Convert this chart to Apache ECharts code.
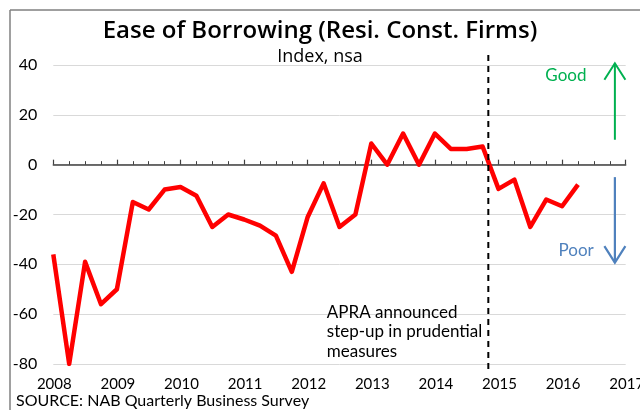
<!DOCTYPE html>
<html>
<head>
<meta charset="utf-8">
<script src="https://cdn.jsdelivr.net/npm/echarts@6/dist/echarts.min.js"></script>
<style>
  html, body { margin: 0; padding: 0; background: #fff; }
  #chart { width: 640px; height: 410px; }
</style>
</head>
<body>
<div id="chart"></div>
<script>
// Quarterly survey readings, Q1 2008 to Q2 2016
const quarters = [
  '2008Q1','2008Q2','2008Q3','2008Q4',
  '2009Q1','2009Q2','2009Q3','2009Q4',
  '2010Q1','2010Q2','2010Q3','2010Q4',
  '2011Q1','2011Q2','2011Q3','2011Q4',
  '2012Q1','2012Q2','2012Q3','2012Q4',
  '2013Q1','2013Q2','2013Q3','2013Q4',
  '2014Q1','2014Q2','2014Q3','2014Q4',
  '2015Q1','2015Q2','2015Q3','2015Q4',
  '2016Q1','2016Q2'
];
const easeOfBorrowing = [
  -36, -80, -39, -56,
  -50, -15, -18, -10,
  -9, -12.5, -25, -20,
  -22, -24.5, -28.5, -43,
  -21, -7.5, -25, -20,
  8.5, 0, 12.5, 0,
  12.5, 6.3, 6.3, 7.3,
  -9.7, -6, -25, -14,
  -16.7, -8
];
const yTicks = [-80, -60, -40, -20, 0, 20, 40];
const yearLabels = [2008, 2009, 2010, 2011, 2012, 2013, 2014, 2015, 2016, 2017];

// APRA announcement date (decimal year)
const apraDate = 2014.84;

const SANS = 'Lato';
const TITLE_FONT = 'Open Sans';

function quarterToYear(q) {
  const y = parseInt(q.slice(0, 4), 10);
  const n = parseInt(q.slice(5), 10);
  return y + (n - 1) / 4;
}

const seriesData = quarters.map((q, i) => [quarterToYear(q), easeOfBorrowing[i]]);

const chart = echarts.init(document.getElementById('chart'), null, { renderer: 'canvas' });

chart.setOption({
  animation: false,
  backgroundColor: '#ffffff',
  title: [
    {
      text: 'Ease of Borrowing (Resi. Const. Firms)',
      left: 'center', top: 14,
      textStyle: { fontFamily: TITLE_FONT, fontSize: 24, fontWeight: 600, color: '#000' }
    },
    {
      text: 'Index, nsa',
      left: 'center', top: 43,
      textStyle: { fontFamily: TITLE_FONT, fontSize: 18, fontWeight: 'normal', color: '#000' }
    }
  ],
  grid: {
    left: 53.3, right: 14.3, top: 65, bottom: 46,
    containLabel: false, outerBoundsMode: 'none'
  },
  xAxis: [
    {
      // year labels along the bottom; also carries the data
      type: 'value', min: yearLabels[0], max: yearLabels[yearLabels.length - 1], interval: 1,
      position: 'bottom',
      axisLine: { show: false }, axisTick: { show: false }, splitLine: { show: false },
      axisLabel: {
        fontFamily: SANS, fontSize: 15, color: '#000', margin: 13, padding: [0, 0, 0, 2],
        hideOverlap: false,
        formatter: v => String(v)
      }
    },
    {
      // zero line with quarterly ticks
      type: 'value', min: yearLabels[0], max: yearLabels[yearLabels.length - 1], interval: 1,
      position: 'bottom',
      axisLine: { show: true, onZero: true, onZeroAxisIndex: 0, lineStyle: { color: '#404040', width: 1.5 } },
      axisTick: { show: true, inside: true, length: 5, lineStyle: { color: '#404040', width: 1.2 } },
      minorTick: { show: true, splitNumber: 4, length: 3.5, lineStyle: { color: '#404040', width: 1 } },
      axisLabel: { show: false }, splitLine: { show: false }
    }
  ],
  yAxis: {
    type: 'value', min: yTicks[0], max: yTicks[yTicks.length - 1], interval: 20,
    axisLine: { show: false }, axisTick: { show: false },
    axisLabel: { fontFamily: SANS, fontSize: 16, color: '#000', margin: 16 },
    splitLine: { show: true, lineStyle: { color: '#d9d9d9', width: 1 } }
  },
  series: [
    {
      type: 'line', xAxisIndex: 0, data: seriesData,
      showSymbol: false, symbol: 'none',
      lineStyle: { color: '#ff0000', width: 4.5, join: 'round' },
      z: 5
    }
  ]
});

// Annotations placed through the chart's own scales
const px = (x, y) => chart.convertToPixel({ xAxisIndex: 0, yAxisIndex: 0 }, [x, y]);

const arrowX = 2016.83;
const goodFrom = px(arrowX, 10), goodTip = px(arrowX, 40.7);
const poorFrom = px(arrowX, -5), poorTip = px(arrowX, -39.3);
const dashTop = px(apraDate, 44), dashBottom = px(apraDate, -82);
const goodPos = px(2016.06, 35.6);
const poorPos = px(2016.22, -34.3);
const notePos = px(2012.3, -55.3);

const wingX = 10.5, wingY = 16.5;

chart.setOption({
  graphic: [
    { type: 'line', shape: { x1: 10, y1: 10, x2: 640, y2: 10 }, style: { stroke: '#404040', lineWidth: 1 } },
    { type: 'line', shape: { x1: 10, y1: 10, x2: 10, y2: 410 }, style: { stroke: '#808080', lineWidth: 1.5 } },
    {
      type: 'line', z: 10,
      shape: { x1: dashTop[0], y1: dashTop[1], x2: dashBottom[0], y2: dashBottom[1] },
      style: { stroke: '#000', lineWidth: 2, lineDash: [6, 5] }
    },
    {
      type: 'polyline', z: 10,
      shape: { points: [goodFrom, goodTip] },
      style: { stroke: '#00b050', lineWidth: 2, fill: null }
    },
    {
      type: 'polyline', z: 10,
      shape: { points: [[goodTip[0] - wingX, goodTip[1] + wingY], goodTip, [goodTip[0] + wingX, goodTip[1] + wingY]] },
      style: { stroke: '#00b050', lineWidth: 2, fill: null }
    },
    {
      type: 'polyline', z: 10,
      shape: { points: [poorFrom, poorTip] },
      style: { stroke: '#4f81bd', lineWidth: 2.2, fill: null }
    },
    {
      type: 'polyline', z: 10,
      shape: { points: [[poorTip[0] - wingX, poorTip[1] - wingY], poorTip, [poorTip[0] + wingX, poorTip[1] - wingY]] },
      style: { stroke: '#4f81bd', lineWidth: 2.2, fill: null }
    },
    {
      type: 'text', z: 10, x: goodPos[0], y: goodPos[1],
      style: { text: 'Good', fontFamily: SANS, fontSize: 17, fill: '#00b050', align: 'center', verticalAlign: 'middle' }
    },
    {
      type: 'text', z: 10, x: poorPos[0], y: poorPos[1],
      style: { text: 'Poor', fontFamily: SANS, fontSize: 17, fill: '#4f81bd', align: 'center', verticalAlign: 'middle' }
    },
    {
      type: 'text', z: 10, x: notePos[0], y: notePos[1],
      style: {
        text: 'APRA announced\nstep-up in prudential\nmeasures',
        fontFamily: SANS, fontSize: 17, lineHeight: 19.5, fill: '#000', align: 'left', verticalAlign: 'top'
      }
    },
    {
      type: 'text', left: 16, top: 393,
      style: { text: 'SOURCE: NAB Quarterly Business Survey', fontFamily: SANS, fontSize: 16, fill: '#000' }
    }
  ]
});
</script>
</body>
</html>
